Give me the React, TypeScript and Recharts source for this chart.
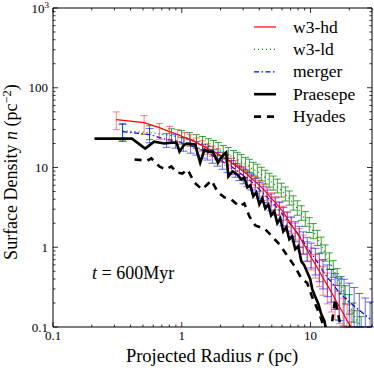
import { LineChart, Line, XAxis, YAxis, ErrorBar } from "recharts";

// ── Data (r in pc, n in pc^-2) ────────────────────────────────────────────
// w3-hd (red, solid)
const HD_R = [0.31, 0.51, 0.67, 0.8, 0.93, 1.05, 1.17, 1.3, 1.45, 1.58, 1.73, 1.89, 2.07, 2.26, 2.43, 2.61, 2.8, 3.01, 3.23, 3.47, 3.72, 4.0, 4.29, 4.61, 4.94, 5.32, 5.72, 6.14, 6.59, 7.08, 7.6, 8.17, 8.77, 9.42, 10.1, 10.9, 11.7, 12.5, 13.5, 14.5, 15.5, 16.7, 17.9, 19.2, 20.7];
const HD_N = [39.8, 36.5, 31.6, 28.2, 25.9, 23.7, 22.4, 20.5, 18.8, 17.3, 16.3, 15.0, 13.7, 12.6, 11.5, 10.6, 9.72, 8.91, 8.18, 7.29, 6.68, 5.96, 5.31, 4.73, 4.1, 3.65, 3.16, 2.74, 2.3, 1.94, 1.63, 1.37, 1.12, 0.92, 0.75, 0.61, 0.5, 0.41, 0.335, 0.274, 0.224, 0.18, 0.15, 0.12, 0.1];
const HD_LO = [10, 10.5, 9, 6, 5, 4, 3.8, 3.3, 3, 2.7, 2.5, 2.3, 2.1, 1.9, 1.7, 1.6, 1.5, 1.4, 1.3, 1.2, 1.1, 1.0, 0.95, 0.85, 0.75, 0.7, 0.62, 0.56, 0.5, 0.44, 0.4, 0.35, 0.3, 0.26, 0.23, 0.2, 0.18, 0.16, 0.14, 0.12, 0.1, 0.07, 0.045, 0.02, 0];
const HD_HI = [10, 8.2, 4, 4.5, 4, 3.6, 3.4, 3, 2.8, 2.5, 2.3, 2.1, 1.9, 1.8, 1.6, 1.5, 1.4, 1.3, 1.2, 1.1, 1.0, 0.95, 0.9, 0.8, 0.72, 0.66, 0.6, 0.53, 0.48, 0.42, 0.38, 0.34, 0.3, 0.26, 0.23, 0.2, 0.18, 0.16, 0.14, 0.12, 0.11, 0.1, 0.08, 0.07, 0.06];

// w3-ld (green, dotted)
const LD_R = [0.347, 0.562, 0.832, 0.995, 1.15, 1.3, 1.45, 1.61, 1.76, 1.92, 2.1, 2.3, 2.52, 2.7, 2.9, 3.12, 3.35, 3.59, 3.86, 4.15, 4.45, 4.78, 5.14, 5.52, 5.93, 6.37, 6.84, 7.34, 7.89, 8.47, 9.1, 9.77, 10.5, 11.3, 12.1, 13.0, 14.0, 15.0, 16.1, 17.3, 18.6, 20.0, 21.4, 23.0, 24.7];
const LD_N = [29.0, 27.4, 25.1, 23.7, 22.4, 21.1, 20.0, 18.8, 17.8, 16.8, 15.4, 14.5, 13.3, 12.6, 11.9, 10.9, 10.3, 9.44, 8.91, 8.18, 7.5, 6.88, 6.31, 5.79, 5.16, 4.6, 4.1, 3.55, 3.07, 2.66, 2.24, 1.88, 1.58, 1.3, 1.06, 0.84, 0.67, 0.53, 0.42, 0.33, 0.25, 0.19, 0.15, 0.12, 0.1];
const LD_LO = [7, 5, 4.5, 4, 3.8, 3.6, 3.4, 3.2, 3, 2.8, 2.6, 2.4, 2.2, 2.1, 2.0, 1.8, 1.7, 1.6, 1.5, 1.4, 1.3, 1.2, 1.1, 1.0, 0.9, 0.8, 0.72, 0.63, 0.55, 0.48, 0.41, 0.35, 0.3, 0.25, 0.21, 0.17, 0.14, 0.11, 0.09, 0.07, 0.055, 0.045, 0.035, 0.02, 0];
const LD_HI = [6.5, 6, 5.5, 5.3, 5, 4.7, 4.5, 4.2, 4, 3.8, 3.5, 3.3, 3, 2.9, 2.7, 2.5, 2.4, 2.2, 2.1, 1.9, 1.75, 1.6, 1.5, 1.35, 1.2, 1.1, 0.98, 0.86, 0.75, 0.65, 0.56, 0.47, 0.4, 0.33, 0.28, 0.23, 0.18, 0.15, 0.12, 0.1, 0.08, 0.065, 0.05, 0.04, 0.035];

// merger (blue, dash-dot)
const MG_R = [0.347, 0.562, 0.761, 0.894, 1.03, 1.17, 1.3, 1.45, 1.58, 1.73, 1.89, 2.07, 2.26, 2.43, 2.61, 2.8, 3.01, 3.23, 3.47, 3.72, 4.0, 4.29, 4.61, 4.94, 5.32, 5.72, 6.14, 6.59, 7.08, 7.6, 8.17, 8.77, 9.42, 10.1, 10.9, 11.7, 12.5, 13.5, 14.5, 15.5, 16.7, 18.2, 20.0, 21.8, 23.9, 26.6, 29.0];
const MG_N = [28.2, 25.9, 22.4, 21.8, 20.0, 18.8, 17.8, 16.3, 15.4, 14.1, 13.0, 11.9, 10.9, 10.3, 9.44, 8.66, 7.94, 7.29, 6.68, 5.96, 5.31, 4.73, 4.22, 3.76, 3.35, 2.9, 2.51, 2.17, 1.88, 1.63, 1.41, 1.19, 1.0, 0.84, 0.71, 0.6, 0.5, 0.42, 0.365, 0.316, 0.27, 0.237, 0.205, 0.183, 0.163, 0.141, 0.126];
const MG_LO = [7, 5.5, 4.5, 4.3, 4, 3.7, 3.5, 3.2, 3, 2.8, 2.6, 2.4, 2.2, 2.1, 1.9, 1.8, 1.7, 1.55, 1.45, 1.3, 1.2, 1.1, 1.0, 0.9, 0.82, 0.73, 0.65, 0.58, 0.52, 0.46, 0.42, 0.37, 0.33, 0.29, 0.26, 0.23, 0.2, 0.18, 0.16, 0.15, 0.15, 0.137, 0.105, 0.083, 0.063, 0.041, 0.026];
const MG_HI = [6.5, 5, 4.2, 4, 3.8, 3.5, 3.3, 3, 2.8, 2.6, 2.4, 2.2, 2.0, 1.9, 1.8, 1.7, 1.6, 1.5, 1.4, 1.3, 1.2, 1.1, 1.0, 0.9, 0.82, 0.73, 0.65, 0.58, 0.52, 0.46, 0.42, 0.37, 0.33, 0.29, 0.26, 0.23, 0.2, 0.18, 0.16, 0.15, 0.14, 0.16, 0.15, 0.13, 0.1, 0.09, 0.08];

// Praesepe (black, thick solid)
const PR_R = [0.21, 0.41, 0.52, 0.61, 0.73, 0.83, 0.91, 0.96, 1.03, 1.09, 1.27, 1.39, 1.5, 1.61, 1.74, 1.91, 2.04, 2.21, 2.3, 2.48, 2.7, 2.9, 3.06, 3.23, 3.41, 3.59, 3.79, 4.0, 4.22, 4.45, 4.7, 4.94, 5.23, 5.52, 5.82, 6.14, 6.48, 6.84, 7.21, 7.6, 8.03, 8.47, 8.93, 9.42, 9.95, 10.3, 10.9, 11.5, 12.1, 12.8, 13.2];
const PR_N = [23.0, 23.0, 17.3, 21.1, 20.0, 20.5, 20.5, 15.8, 18.8, 20.0, 19.4, 11.5, 16.8, 15.8, 15.8, 11.5, 13.7, 15.4, 7.72, 8.91, 8.18, 7.08, 7.5, 5.62, 5.96, 4.34, 4.87, 3.45, 4.1, 3.07, 3.45, 2.51, 2.82, 2.0, 2.3, 1.58, 1.78, 1.26, 1.37, 0.944, 1.03, 0.668, 0.596, 0.487, 0.398, 0.299, 0.237, 0.194, 0.145, 0.119, 0.094];

// Hyades (black, thick dashed)
const HY_R = [0.43, 0.54, 0.58, 0.67, 0.75, 0.83, 0.91, 1.01, 1.11, 1.25, 1.44, 1.7, 1.91, 2.14, 2.42, 2.8, 3.06, 3.35, 3.72, 4.45, 4.94, 5.72, 6.48, 7.6, 8.47, 9.42, 10.3, 11.3, 12.1, 13.0, 14.2, 15.5, 17.3];
const HY_N = [12.6, 12.2, 13.0, 10.3, 9.44, 10.3, 8.66, 8.41, 9.44, 6.49, 5.31, 6.88, 4.87, 4.22, 3.98, 3.25, 3.55, 2.44, 1.88, 1.68, 1.41, 1.09, 0.818, 0.562, 0.41, 0.355, 0.237, 0.168, 0.126, 0.089, 0.075, 0.224, 0.094];

// ── Axis ticks ────────────────────────────────────────────────────────────
const X_TICKS = [0.1, 0.2, 0.3, 0.4, 0.5, 0.6, 0.7, 0.8, 0.9, 1, 2, 3, 4, 5, 6, 7, 8, 9, 10, 20, 30];
const Y_TICKS = [
  0.1, 0.2, 0.3, 0.4, 0.5, 0.6, 0.7, 0.8, 0.9,
  1, 2, 3, 4, 5, 6, 7, 8, 9,
  10, 20, 30, 40, 50, 60, 70, 80, 90,
  100, 200, 300, 400, 500, 600, 700, 800, 900, 1000,
];
const X_LABELS: Record<string, string> = { "0.1": "0.1", "1": "1", "10": "10" };
const Y_LABELS: Record<string, string> = { "0.1": "0.1", "1": "1", "10": "10", "100": "100" };

const SERIF = '"Liberation Serif", "DejaVu Serif", serif';
const MAJOR = 5;
const MINOR = 2.5;

const withErr = (r: number[], n: number[], lo: number[], hi: number[]) =>
  r.map((v, i) => ({ r: v, n: n[i], e: [lo[i], hi[i]] }));
const plain = (r: number[], n: number[]) => r.map((v, i) => ({ r: v, n: n[i] }));

const isMajor = (v: number) => Math.abs(Math.log10(v) - Math.round(Math.log10(v))) < 1e-6;

// ── Inward ticks on all four sides ─────────────────────────────────────────
function BottomTick({ x, y, payload }: any) {
  const v = payload.value;
  const len = isMajor(v) ? MAJOR : MINOR;
  const lbl = X_LABELS[String(v)];
  return (
    <g>
      <line x1={x} x2={x} y1={y} y2={y - len} stroke="#000" strokeWidth={0.8} />
      {lbl && (
        <text x={x} y={y + 13} textAnchor="middle" fontSize={13} fontFamily={SERIF} fill="#000">
          {lbl}
        </text>
      )}
    </g>
  );
}

function TopTick({ x, y, payload }: any) {
  const len = isMajor(payload.value) ? MAJOR : MINOR;
  return <line x1={x} x2={x} y1={y} y2={y + len} stroke="#000" strokeWidth={0.8} />;
}

function LeftTick({ x, y, payload }: any) {
  const v = payload.value;
  const len = isMajor(v) ? MAJOR : MINOR;
  const lbl = Y_LABELS[String(v)];
  return (
    <g>
      <line x1={x} x2={x + len} y1={y} y2={y} stroke="#000" strokeWidth={0.8} />
      {lbl && (
        <text x={x - 5} y={y + 4.5} textAnchor="end" fontSize={13} fontFamily={SERIF} fill="#000">
          {lbl}
        </text>
      )}
      {v === 1000 && (
        <text x={x - 4} y={y + 4.5} textAnchor="end" fontSize={13} fontFamily={SERIF} fill="#000">
          10
          <tspan dy={-5} fontSize={9}>3</tspan>
        </text>
      )}
    </g>
  );
}

function RightTick({ x, y, payload }: any) {
  const len = isMajor(payload.value) ? MAJOR : MINOR;
  return <line x1={x} x2={x - len} y1={y} y2={y} stroke="#000" strokeWidth={0.8} />;
}

// ── Legend entries ─────────────────────────────────────────────────────────
const LEGEND = [
  { name: "w3-hd", stroke: "#ff0000", width: 1.2, dash: undefined },
  { name: "w3-ld", stroke: "#008000", width: 1.2, dash: "1 3" },
  { name: "merger", stroke: "#0000ff", width: 1.2, dash: "5 2.5 1.5 2.5" },
  { name: "Praesepe", stroke: "#000", width: 2.6, dash: undefined },
  { name: "Hyades", stroke: "#000", width: 2.6, dash: "7 6" },
];

export default function App() {
  const hd = withErr(HD_R, HD_N, HD_LO, HD_HI);
  const ld = withErr(LD_R, LD_N, LD_LO, LD_HI);
  const mg = withErr(MG_R, MG_N, MG_LO, MG_HI);
  const pr = plain(PR_R, PR_N);
  const hy = plain(HY_R, HY_N);

  const axisCommon = {
    type: "number" as const,
    scale: "log" as const,
    allowDataOverflow: true,
    interval: 0 as const,
    tickSize: 0,
    tickMargin: 0,
    tickLine: false,
    axisLine: { stroke: "#000", strokeWidth: 1 },
  };

  return (
    <div style={{ position: "absolute", left: 0, top: 0, width: 374, height: 368, background: "#fff" }}>
      <LineChart width={374} height={368} margin={{ top: 7, right: 1, bottom: 0, left: 0 }}>
        <XAxis xAxisId="b" dataKey="r" domain={[0.1, 30]} ticks={X_TICKS} height={41}
          tick={(p: any) => <BottomTick {...p} />} {...axisCommon} />
        <XAxis xAxisId="t" dataKey="r" orientation="top" domain={[0.1, 30]} ticks={X_TICKS} height={1}
          tick={(p: any) => <TopTick {...p} />} {...axisCommon} />
        <YAxis yAxisId="l" domain={[0.1, 1000]} ticks={Y_TICKS} width={53}
          tick={(p: any) => <LeftTick {...p} />} {...axisCommon} />
        <YAxis yAxisId="r" orientation="right" domain={[0.1, 1000]} ticks={Y_TICKS} width={1}
          tick={(p: any) => <RightTick {...p} />} {...axisCommon} />

        <Line xAxisId="b" yAxisId="l" data={ld} dataKey="n" stroke="#008000" strokeWidth={1.2}
          strokeDasharray="1 3" dot={false} activeDot={false} isAnimationActive={false}>
          <ErrorBar dataKey="e" direction="y" width={3.5} stroke="rgba(0,128,0,0.75)" strokeWidth={1} isAnimationActive={false} />
        </Line>
        <Line xAxisId="b" yAxisId="l" data={mg} dataKey="n" stroke="#0000ff" strokeWidth={1.2}
          strokeDasharray="5 2.5 1.5 2.5" dot={false} activeDot={false} isAnimationActive={false}>
          <ErrorBar dataKey="e" direction="y" width={4} stroke="rgba(0,0,255,0.6)" strokeWidth={1} isAnimationActive={false} />
        </Line>
        <Line xAxisId="b" yAxisId="l" data={hd} dataKey="n" stroke="#ff0000" strokeWidth={1.2}
          dot={false} activeDot={false} isAnimationActive={false}>
          <ErrorBar dataKey="e" direction="y" width={3.5} stroke="rgba(255,0,0,0.5)" strokeWidth={1} isAnimationActive={false} />
        </Line>
        <Line xAxisId="b" yAxisId="l" data={pr} dataKey="n" stroke="#000" strokeWidth={2.6}
          strokeLinejoin="miter" dot={false} activeDot={false} isAnimationActive={false} />
        <Line xAxisId="b" yAxisId="l" data={hy} dataKey="n" stroke="#000" strokeWidth={2.6}
          strokeDasharray="7 6" dot={false} activeDot={false} isAnimationActive={false} />
      </LineChart>

      {/* labels and legend */}
      <svg width={374} height={368} style={{ position: "absolute", left: 0, top: 0, pointerEvents: "none" }}
        fontFamily={SERIF} fill="#000">
        {LEGEND.map((l, i) => {
          const cy = 27 + i * 22.4;
          return (
            <g key={l.name}>
              <line x1={254} x2={276} y1={cy} y2={cy} stroke={l.stroke} strokeWidth={l.width}
                strokeDasharray={l.dash} />
              <text x={293} y={cy + 5.5} fontSize={17.5}>{l.name}</text>
            </g>
          );
        })}
        <text x={92} y={279} fontSize={18}>
          <tspan fontStyle="italic">t</tspan> = 600Myr
        </text>
        <text x={212} y={362} fontSize={18.5} textAnchor="middle">
          Projected Radius <tspan fontStyle="italic">r</tspan> (pc)
        </text>
        <text transform="translate(17,172) rotate(-90)" fontSize={18} textAnchor="middle">
          Surface Density <tspan fontStyle="italic">n</tspan> (pc<tspan dy={-6} fontSize={12.5}>−2</tspan>
          <tspan dy={6}>)</tspan>
        </text>
      </svg>
    </div>
  );
}
